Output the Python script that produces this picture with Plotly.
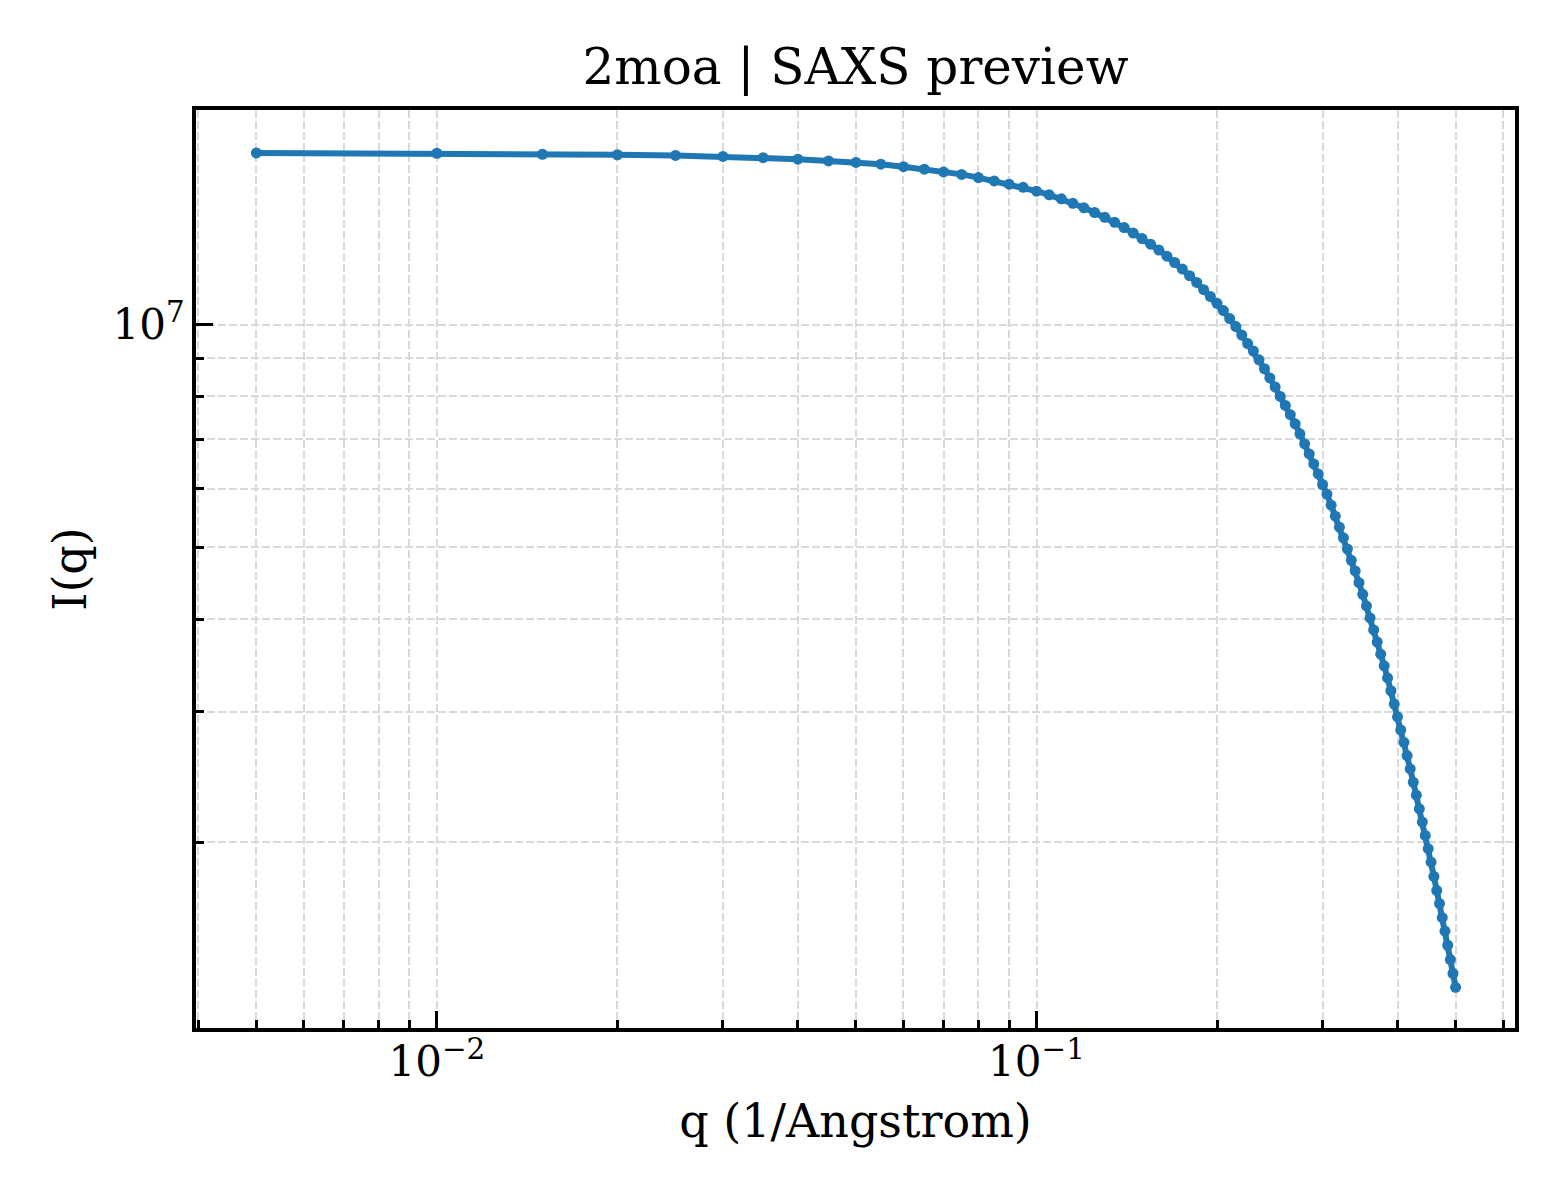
import plotly.graph_objects as go

# Data
q_values = [
    0.005, 0.010, 0.015, 0.020, 0.025, 0.030, 0.035, 0.040, 0.045, 0.050,
    0.055, 0.060, 0.065, 0.070, 0.075, 0.080, 0.085, 0.090, 0.095, 0.100,
    0.105, 0.110, 0.115, 0.120, 0.125, 0.130, 0.135, 0.140, 0.145, 0.150,
    0.155, 0.160, 0.165, 0.170, 0.175, 0.180, 0.185, 0.190, 0.195, 0.200,
    0.205, 0.210, 0.215, 0.220, 0.225, 0.230, 0.235, 0.240, 0.245, 0.250,
    0.255, 0.260, 0.265, 0.270, 0.275, 0.280, 0.285, 0.290, 0.295, 0.300,
    0.305, 0.310, 0.315, 0.320, 0.325, 0.330, 0.335, 0.340, 0.345, 0.350,
    0.355, 0.360, 0.365, 0.370, 0.375, 0.380, 0.385, 0.390, 0.395, 0.400,
    0.405, 0.410, 0.415, 0.420, 0.425, 0.430, 0.435, 0.440, 0.445, 0.450,
    0.455, 0.460, 0.465, 0.470, 0.475, 0.480, 0.485, 0.490, 0.495, 0.500,
]

intensity = [
    1.7053e7, 1.7037e7, 1.6984e7, 1.6958e7, 1.6922e7, 1.6869e7, 1.6806e7, 1.6723e7, 1.6635e7, 1.6558e7,
    1.6466e7, 1.6338e7, 1.6212e7, 1.6077e7, 1.5953e7, 1.5795e7, 1.5634e7, 1.5475e7, 1.5322e7, 1.5143e7,
    1.4970e7, 1.4785e7, 1.4580e7, 1.4378e7, 1.4170e7, 1.3960e7, 1.3745e7, 1.3521e7, 1.3292e7, 1.3067e7,
    1.2838e7, 1.2609e7, 1.2369e7, 1.2129e7, 1.1887e7, 1.1642e7, 1.1399e7, 1.1147e7, 1.0908e7, 1.0683e7,
    1.0444e7, 1.0188e7, 9.938e6, 9.679e6, 9.427e6, 9.211e6, 8.962e6, 8.716e6, 8.470e6, 8.237e6,
    7.998e6, 7.777e6, 7.556e6, 7.343e6, 7.119e6, 6.902e6, 6.687e6, 6.482e6, 6.284e6, 6.081e6,
    5.901e6, 5.703e6, 5.511e6, 5.326e6, 5.152e6, 4.975e6, 4.803e6, 4.647e6, 4.481e6, 4.322e6,
    4.168e6, 4.016e6, 3.869e6, 3.725e6, 3.588e6, 3.460e6, 3.332e6, 3.202e6, 3.072e6, 2.953e6,
    2.834e6, 2.727e6, 2.617e6, 2.511e6, 2.409e6, 2.314e6, 2.218e6, 2.128e6, 2.042e6, 1.959e6,
    1.879e6, 1.797e6, 1.721e6, 1.652e6, 1.581e6, 1.516e6, 1.451e6, 1.388e6, 1.329e6, 1.273e6,
]

x_major_vals = [0.01, 0.1]
x_major_text = ["10<sup>\u22122</sup>", "10<sup>\u22121</sup>"]
x_minor_vals = [0.004, 0.005, 0.006, 0.007, 0.008, 0.009,
                0.02, 0.03, 0.04, 0.05, 0.06, 0.07, 0.08, 0.09,
                0.2, 0.3, 0.4, 0.5, 0.6]
y_major_vals = [1e7]
y_major_text = ["10<sup>7</sup>"]
y_minor_vals = [2e6, 3e6, 4e6, 5e6, 6e6, 7e6, 8e6, 9e6]

title_text = "2moa | SAXS preview"
x_label = "q (1/Angstrom)"
y_label = "I(q)"

FONT = "DejaVu Serif"
GRID = "#d9d9d9"
DASH = "7.7px,3.3px"

fig = go.Figure()
fig.add_trace(go.Scatter(
    x=q_values, y=intensity, mode="lines+markers",
    line=dict(color="#1f77b4", width=6),
    marker=dict(color="#1f77b4", size=11),
    showlegend=False,
))

axis_common = dict(
    type="log",
    automargin=False,
    showline=True, linecolor="black", linewidth=4, mirror=True,
    ticks="inside", ticklen=17, tickwidth=3, tickcolor="black",
    showgrid=True, gridcolor=GRID, gridwidth=2, griddash=DASH,
    zeroline=False,
    tickfont=dict(family=FONT, size=42, color="black"),
)

fig.update_xaxes(
    **axis_common,
    ticklabelstandoff=-6,
    range=[-2.4017, -0.202],
    tickmode="array", tickvals=x_major_vals, ticktext=x_major_text,
    minor=dict(tickmode="array", tickvals=x_minor_vals, ticks="inside",
               ticklen=8, tickwidth=2.5, tickcolor="black",
               showgrid=True, gridcolor=GRID, gridwidth=2, griddash=DASH),
    title=dict(text=x_label, font=dict(family=FONT, size=46, color="black"), standoff=20),
)
fig.update_yaxes(
    **axis_common,
    ticklabelstandoff=-1,
    range=[6.0499, 7.2898],
    tickmode="array", tickvals=y_major_vals, ticktext=y_major_text,
    minor=dict(tickmode="array", tickvals=y_minor_vals, ticks="inside",
               ticklen=8, tickwidth=2.5, tickcolor="black",
               showgrid=True, gridcolor=GRID, gridwidth=2, griddash=DASH),
    title=dict(text=y_label, font=dict(family=FONT, size=46, color="black"), standoff=12),
)

fig.update_layout(
    width=1560, height=1200,
    margin=dict(l=188, r=53, t=102, b=180),
    paper_bgcolor="white", plot_bgcolor="white",
    font=dict(family=FONT, color="black"),
    title=dict(text=title_text, x=0.5, xref="paper", xanchor="center",
               y=1 - 58 / 1200, yref="container", yanchor="middle",
               font=dict(family=FONT, size=50, color="black")),
)

fig.write_html("out.html")
